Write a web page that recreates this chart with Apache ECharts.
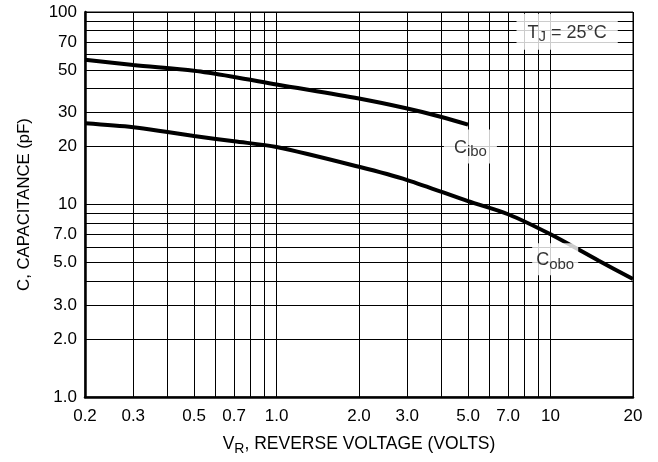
<!DOCTYPE html>
<html>
<head>
<meta charset="utf-8">
<script src="https://cdn.jsdelivr.net/npm/echarts@6/dist/echarts.min.js"></script>
<style>
  html, body { margin: 0; padding: 0; background: #fff; }
  #chart { width: 658px; height: 462px; }
</style>
</head>
<body>
<div id="chart"></div>
<script>
// Reverse voltage (V) and capacitance (pF) readings for both curves
const cIboVoltage = [0.2, 0.3, 0.5, 0.7, 1.0, 2.0, 3.0, 4.0, 5.0];
const cIboPF      = [56.5, 53, 49.5, 46, 42, 35.5, 31.5, 28.5, 26];

const cOboVoltage = [0.2, 0.3, 0.4, 0.5, 0.7, 1.0, 2.0, 3.0, 5.0, 7.0, 10, 15, 20];
const cOboPF      = [26.4, 25.2, 23.8, 22.7, 21.3, 19.9, 15.7, 13.4, 10.4, 8.9, 7.0, 5.1, 4.1];

// Grid lines and labelled ticks on both log axes
const xGridValues  = [0.2, 0.3, 0.4, 0.5, 0.6, 0.7, 0.8, 0.9, 1, 2, 3, 4, 5, 6, 7, 8, 9, 10, 20];
const xLabelValues = [0.2, 0.3, 0.5, 0.7, 1, 2, 3, 5, 7, 10, 20];
const yGridValues  = [1, 2, 3, 4, 5, 6, 7, 8, 9, 10, 20, 30, 40, 50, 60, 70, 80, 90, 100];
const yLabelValues = [1, 2, 3, 5, 7, 10, 20, 30, 50, 70, 100];

// Curve name tags: [voltage, capacitance, rich text, padding]
const curveTags = [
  [5.1, 20, '{n|C}{s|ibo}', [6, 10, 4, 10]],
  [10.4, 5.2, '{n|C}{s|obo}', [5, 4, 3, 4]],
  [11.5, 79, '{n|T}{s|J}{n| = 25°C}', [7, 11, 5, 11]]
];

const FONT = '"Liberation Sans", Arial, Helvetica, sans-serif';
const richSub = {
  n: { fontFamily: FONT, fontSize: 18, color: '#000' },
  s: { fontFamily: FONT, fontSize: 15, color: '#000', padding: [9, 0, 0, 0] }
};

function fmt(v) {
  return v >= 10 ? String(v) : v.toFixed(1);
}

const chart = echarts.init(document.getElementById('chart'), null, { renderer: 'canvas' });

chart.setOption({
  animation: false,
  backgroundColor: '#fff',
  grid: {
    left: 85, right: 25, top: 12, bottom: 65,
    show: true, borderColor: '#000', borderWidth: 1
  },
  xAxis: {
    type: 'log', logBase: 10, min: 0.2, max: 20,
    name: '{n|V}{s|R}{n|, REVERSE VOLTAGE (VOLTS)}',
    nameLocation: 'middle', nameGap: 36,
    nameTextStyle: {
      rich: {
        n: { fontFamily: FONT, fontSize: 17.5, color: '#000' },
        s: { fontFamily: FONT, fontSize: 14, color: '#000', padding: [9, 0, 0, 0] }
      }
    },
    axisLine: { show: true, lineStyle: { color: '#000', width: 2.5 } },
    axisTick: { show: false, customValues: xGridValues },
    axisLabel: {
      customValues: xLabelValues, formatter: fmt, margin: 11,
      fontFamily: FONT, fontSize: 17, color: '#000'
    },
    splitLine: { show: true, lineStyle: { color: '#000', width: 1 } }
  },
  yAxis: {
    type: 'log', logBase: 10, min: 1, max: 100,
    name: 'C, CAPACITANCE (pF)',
    nameLocation: 'middle', nameGap: 52, nameRotate: 90,
    nameTextStyle: { fontFamily: FONT, fontSize: 16.7, color: '#000' },
    axisLine: { show: true, lineStyle: { color: '#000', width: 2.5 } },
    axisTick: { show: false, customValues: yGridValues },
    axisLabel: {
      customValues: yLabelValues, formatter: fmt, margin: 8,
      fontFamily: FONT, fontSize: 17, color: '#000'
    },
    splitLine: { show: true, lineStyle: { color: '#000', width: 1 } }
  },
  series: [
    {
      name: 'Cibo', type: 'line', smooth: 0.3, symbol: 'none',
      lineStyle: { color: '#000', width: 4 },
      data: cIboVoltage.map((v, i) => [v, cIboPF[i]]),
      z: 3
    },
    {
      name: 'Cobo', type: 'line', smooth: 0.3, symbol: 'none',
      lineStyle: { color: '#000', width: 4 },
      data: cOboVoltage.map((v, i) => [v, cOboPF[i]]),
      z: 3
    },
    {
      name: 'tags', type: 'scatter', symbolSize: 0, z: 5,
      data: curveTags.map(t => ({
        value: [t[0], t[1]], tag: t[2],
        label: { padding: t[3] }
      })),
      label: {
        show: true, position: 'inside',
        formatter: p => p.data.tag,
        backgroundColor: '#fff',
        rich: richSub
      }
    }
  ]
});
</script>
</body>
</html>
